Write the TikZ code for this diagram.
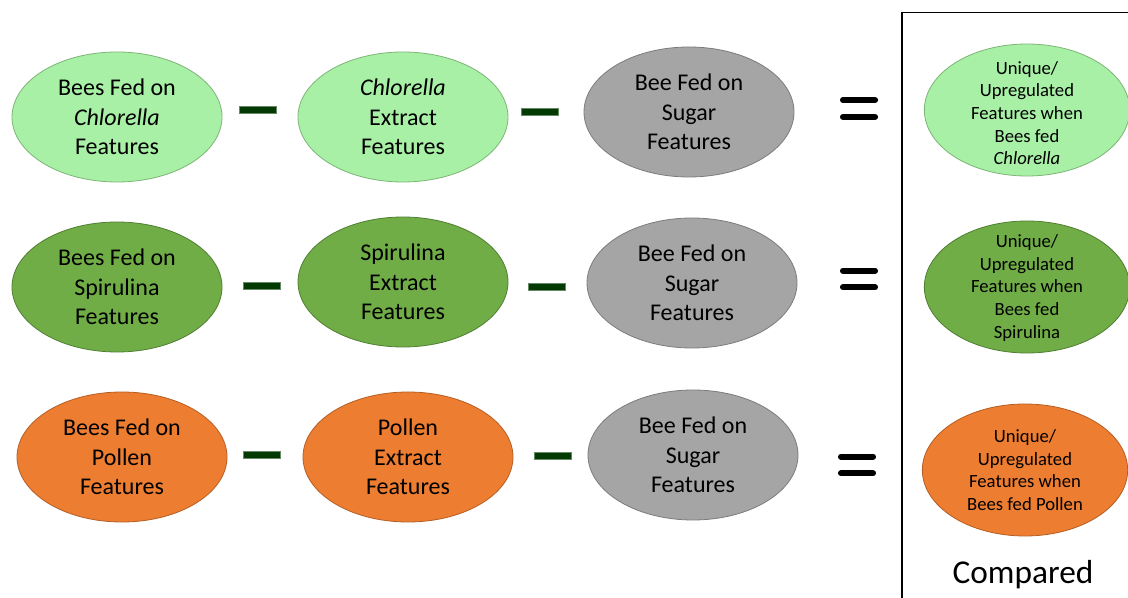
\documentclass[tikz,border=0pt]{standalone}
\usepackage{fontspec}
\setmainfont{Carlito}
\usetikzlibrary{shapes.geometric}

\definecolor{lgfill}{HTML}{A8F0A5}
\definecolor{lgline}{HTML}{7DB577}
\definecolor{mgfill}{HTML}{70AD47}
\definecolor{mgline}{HTML}{507E32}
\definecolor{orfill}{HTML}{ED7D31}
\definecolor{orline}{HTML}{B55E24}
\definecolor{gyfill}{HTML}{A5A5A5}
\definecolor{gyline}{HTML}{7C7C7C}
\definecolor{minuscol}{HTML}{033A03}

\tikzset{
  oval/.style={ellipse, draw, line width=0.6pt, inner sep=0pt,
    minimum width=157.5pt, minimum height=97.5pt, align=center,
    font=\fontsize{18}{22}\selectfont},
  resoval/.style={ellipse, draw, line width=0.6pt, inner sep=0pt,
    minimum width=154pt, minimum height=99pt},
  restext/.style={align=center, inner sep=0pt,
    font=\fontsize{14}{17}\selectfont},
  lg/.style={fill=lgfill, draw=lgline},
  mg/.style={fill=mgfill, draw=mgline},
  og/.style={fill=orfill, draw=orline},
  gy/.style={fill=gyfill, draw=gyline},
  minusbar/.style={rectangle, fill=minuscol, draw=minuscol!60!white,
    line width=0.3pt, inner sep=0pt, minimum width=27.5pt, minimum height=5pt},
  eqbar/.style={line width=4.6pt, line cap=round, black},
}

% the two bars of an equals sign centred on a coordinate
\newcommand{\equalsign}[1]{%
  \draw[eqbar] ([xshift=-12pt,yshift=-6.3pt]#1) -- ([xshift=12pt,yshift=-6.3pt]#1);
  \draw[eqbar] ([xshift=-12pt,yshift=6.3pt]#1) -- ([xshift=12pt,yshift=6.3pt]#1);
}

\begin{document}
\begin{tikzpicture}[x=0.75pt, y=-0.75pt]
  \clip (0,0) rectangle (1128,598);
  \fill[white] (0,0) rectangle (1128,598);

  % comparison frame
  \draw[line width=1pt] (902,600) -- (902,12.5) -- (1132,12.5);
  \node[anchor=base, inner sep=0pt, font=\fontsize{25}{30}\selectfont]
    (cmp) at (1023,583) {Compared};

  % row 1: Chlorella
  \node[oval, lg] (a1) at (117,117) {Bees Fed on\\\textit{Chlorella}\\Features};
  \node[minusbar] (m11) at (258,110) {};
  \node[oval, lg] (b1) at (403,117) {\textit{Chlorella}\\Extract\\Features};
  \node[minusbar] (m12) at (540,112) {};
  \node[oval, gy] (c1) at (689,112) {Bee Fed on\\Sugar\\Features};
  \coordinate (q1) at (859,108.5);
  \equalsign{q1}
  \node[resoval, lg] (r1) at (1027,110) {};
  \node[restext] (r1t) at (1027,113) {Unique/\\Upregulated\\Features when\\Bees fed\\\textit{Chlorella}};

  % row 2: Spirulina
  \node[oval, mg] (a2) at (117,287) {Bees Fed on\\Spirulina\\Features};
  \node[minusbar] (m21) at (262,286) {};
  \node[oval, mg] (b2) at (403,282) {Spirulina\\Extract\\Features};
  \node[minusbar] (m22) at (547,287) {};
  \node[oval, gy] (c2) at (692,283) {Bee Fed on\\Sugar\\Features};
  \coordinate (q2) at (859,279);
  \equalsign{q2}
  \node[resoval, mg] (r2) at (1027,287) {};
  \node[restext] (r2t) at (1027,288) {Unique/\\Upregulated\\Features when\\Bees fed\\Spirulina};

  % row 3: Pollen
  \node[oval, og] (a3) at (122,457) {Bees Fed on\\Pollen\\Features};
  \node[minusbar] (m31) at (262,455) {};
  \node[oval, og] (b3) at (408,457) {Pollen\\Extract\\Features};
  \node[minusbar] (m32) at (553,456) {};
  \node[oval, gy] (c3) at (693,455) {Bee Fed on\\Sugar\\Features};
  \coordinate (q3) at (857,465);
  \equalsign{q3}
  \node[resoval, og] (r3) at (1025,470) {};
  \node[restext] (r3t) at (1025,470) {Unique/\\Upregulated\\Features when\\Bees fed Pollen};
\end{tikzpicture}
\end{document}
